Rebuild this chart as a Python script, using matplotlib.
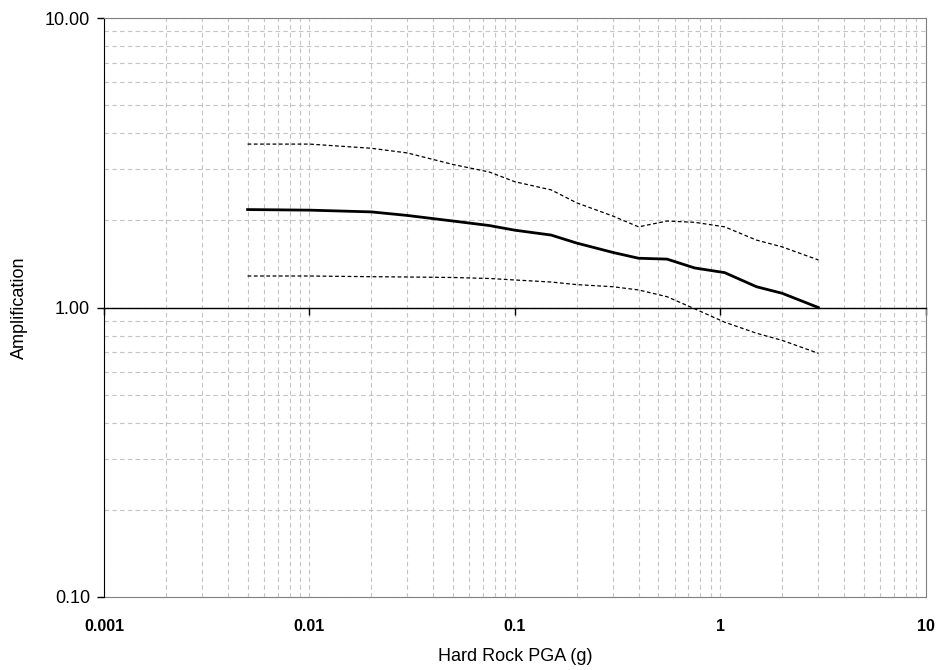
# plot.py
# Amplification vs hard rock PGA, log-log, median with upper/lower bounds.

import matplotlib
matplotlib.use('Agg')
import matplotlib.pyplot as plt
from matplotlib.ticker import LogLocator, FixedLocator, FixedFormatter, NullFormatter

# data
pga = [0.005, 0.01, 0.02, 0.03, 0.05, 0.075, 0.1, 0.15, 0.2, 0.3, 0.4,
       0.55, 0.75, 1.05, 1.5, 2.0, 3.0]
amp_median = [2.18, 2.17, 2.14, 2.08, 1.99, 1.92, 1.85, 1.78, 1.67, 1.55, 1.48,
              1.47, 1.37, 1.32, 1.18, 1.12, 1.00]
amp_upper = [3.67, 3.67, 3.55, 3.42, 3.12, 2.94, 2.72, 2.55, 2.30, 2.07, 1.90,
             1.99, 1.97, 1.90, 1.71, 1.62, 1.46]
amp_lower = [1.285, 1.285, 1.278, 1.275, 1.27, 1.26, 1.245, 1.225, 1.20, 1.18, 1.15,
             1.09, 0.99, 0.89, 0.815, 0.77, 0.695]

x_ticks = [0.001, 0.01, 0.1, 1, 10]
x_tick_labels = ['0.001', '0.01', '0.1', '1', '10']
y_ticks = [0.1, 1, 10]
y_tick_labels = ['0.10', '1.00', '10.00']

plt.rcParams['font.family'] = ['Liberation Sans', 'DejaVu Sans']

fig = plt.figure(figsize=(9.37, 6.70), dpi=100)
ax = fig.add_axes([0.111, 0.109, 0.877, 0.864])

ax.set_xscale('log')
ax.set_yscale('log')
ax.set_xlim(0.001, 10)
ax.set_ylim(0.1, 10)

# grid: dashed grey on every major and minor decade step
grid_style = dict(color='#c4c4c4', linestyle=(0, (4, 3)), linewidth=0.8)
ax.xaxis.set_minor_locator(LogLocator(base=10, subs=range(2, 10), numticks=20))
ax.yaxis.set_minor_locator(LogLocator(base=10, subs=range(2, 10), numticks=20))
ax.grid(True, which='both', **grid_style)
ax.set_axisbelow(True)

# curves
ax.plot(pga, amp_upper, color='black', linewidth=0.9, linestyle=(0, (3, 2)))
ax.plot(pga, amp_lower, color='black', linewidth=0.9, linestyle=(0, (3, 2)))
ax.plot(pga, amp_median, color='black', linewidth=2.0)

# the x axis crosses at 1.00 (Excel style), labels stay at the bottom
ax.spines['bottom'].set_position(('data', 1.0))
ax.spines['bottom'].set_color('black')
ax.spines['bottom'].set_linewidth(1.0)
ax.spines['bottom'].set_zorder(5)
ax.xaxis.set_major_locator(FixedLocator(x_ticks))
ax.xaxis.set_minor_formatter(NullFormatter())
ax.tick_params(axis='x', which='major', direction='out', length=5, width=1,
               labelbottom=False)
ax.tick_params(axis='x', which='minor', length=0)

sec = ax.secondary_xaxis(0)
sec.xaxis.set_major_locator(FixedLocator(x_ticks))
sec.xaxis.set_major_formatter(FixedFormatter(x_tick_labels))
sec.xaxis.set_minor_formatter(NullFormatter())
sec.tick_params(axis='x', which='both', length=0, pad=16, labelsize=11.5)
for lab in sec.get_xticklabels():
    lab.set_fontweight('bold')
sec.spines['bottom'].set_color('#808080')
sec.set_xlabel('Hard Rock PGA (g)', fontsize=13, labelpad=10)

ax.yaxis.set_major_locator(FixedLocator(y_ticks))
ax.yaxis.set_major_formatter(FixedFormatter(y_tick_labels))
ax.yaxis.set_minor_formatter(NullFormatter())
ax.tick_params(axis='y', which='major', direction='out', length=5, width=1,
               labelsize=13, pad=5)
ax.tick_params(axis='y', which='minor', length=0)
ax.spines['left'].set_color('black')
ax.spines['top'].set_color('#808080')
ax.spines['right'].set_color('#808080')
ax.set_ylabel('Amplification', fontsize=13)
ax.yaxis.set_label_coords(-0.092, 0.5)

fig.savefig('out.png', dpi=100)
plt.close(fig)
